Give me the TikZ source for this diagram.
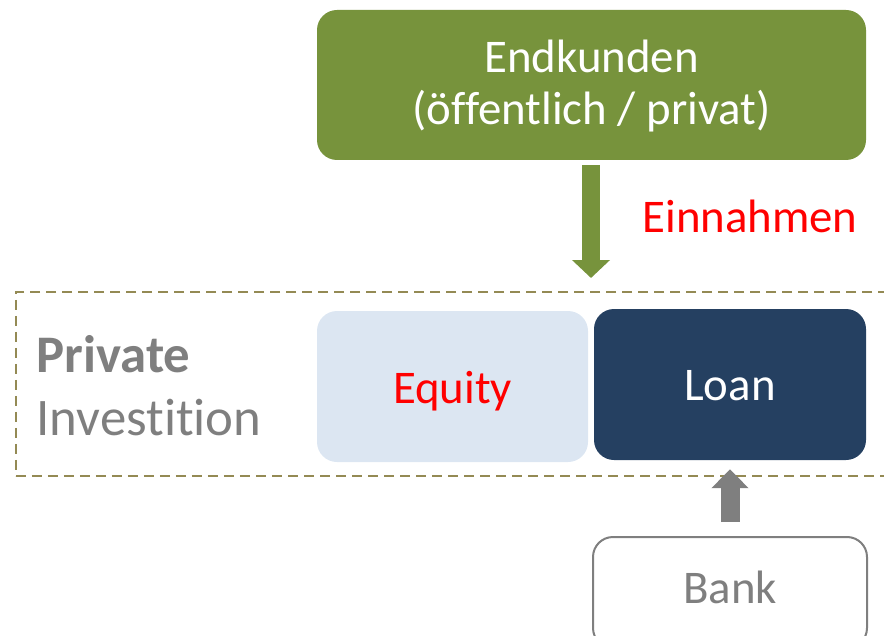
\documentclass[tikz,border=0pt]{standalone}
\usepackage{fontspec}
\setmainfont[Ligatures=NoCommon]{Carlito}
\usetikzlibrary{arrows.meta}
\definecolor{kundengruen}{HTML}{77933C}
\definecolor{loanblau}{HTML}{254061}
\definecolor{equityblau}{HTML}{DCE6F2}
\definecolor{rahmenoliv}{HTML}{948A54}
\definecolor{textgrau}{HTML}{7F7F7F}
\tikzset{
  block/.style={rounded corners=20bp, inner sep=0pt, align=center, text depth=0pt, font=\fontsize{47}{53}\selectfont},
  rahmen/.style={draw=rahmenoliv, line width=2bp, dash pattern=on 10bp off 6bp, inner sep=0pt},
  gruenpfeil/.style={draw=kundengruen, line width=18bp, -{Triangle[width=37bp,length=18bp]}},
  graupfeil/.style={draw=textgrau, line width=19bp, -{Triangle[width=36bp,length=19bp]}}
}
\begin{document}
\begin{tikzpicture}[x=1bp,y=-1bp]
			%%%%% START %%%%%
			\useasboundingbox (0,0) rectangle (884,636);
			
			\node[rahmen, minimum width=880bp, minimum height=184bp] (invest) at (456,384) {};
			
			\node[block, fill=kundengruen, text=white, minimum width=549bp, minimum height=150bp, text height=80bp] (kunden) at (591.5,85) {Endkunden\\(öffentlich / privat)};
			
			\node[block, fill=equityblau, text=red, minimum width=271bp, minimum height=151bp, text height=33bp] (equity) at (452.5,386.5) {Equity};
			\node[block, fill=loanblau, text=white, minimum width=272bp, minimum height=151bp, text height=31bp] (loan) at (730,384.5) {Loan};
			
			\node[block, draw=textgrau, line width=2bp, text=textgrau, minimum width=274bp, minimum height=111bp, text height=21bp] (bank) at (730,592.5) {Bank};
			
			\node[anchor=base west, align=left, text=textgrau, font=\fontsize{53}{63}\selectfont] (privat) at (33,435) {\textbf{Private}\\Investition};
			
			\coordinate (einspitze) at (591,278);
			\draw[gruenpfeil] ([yshift=-5bp]kunden.south -| einspitze) -- (einspitze);
			\node[anchor=base, text=red, font=\fontsize{47}{53}\selectfont] (einnahmen) at (750,233) {Einnahmen};
			
			\draw[graupfeil] ([yshift=14bp]bank.north) -- ([yshift=-9bp]loan.south);
			%%%%% END %%%%%
\end{tikzpicture}
\end{document}
